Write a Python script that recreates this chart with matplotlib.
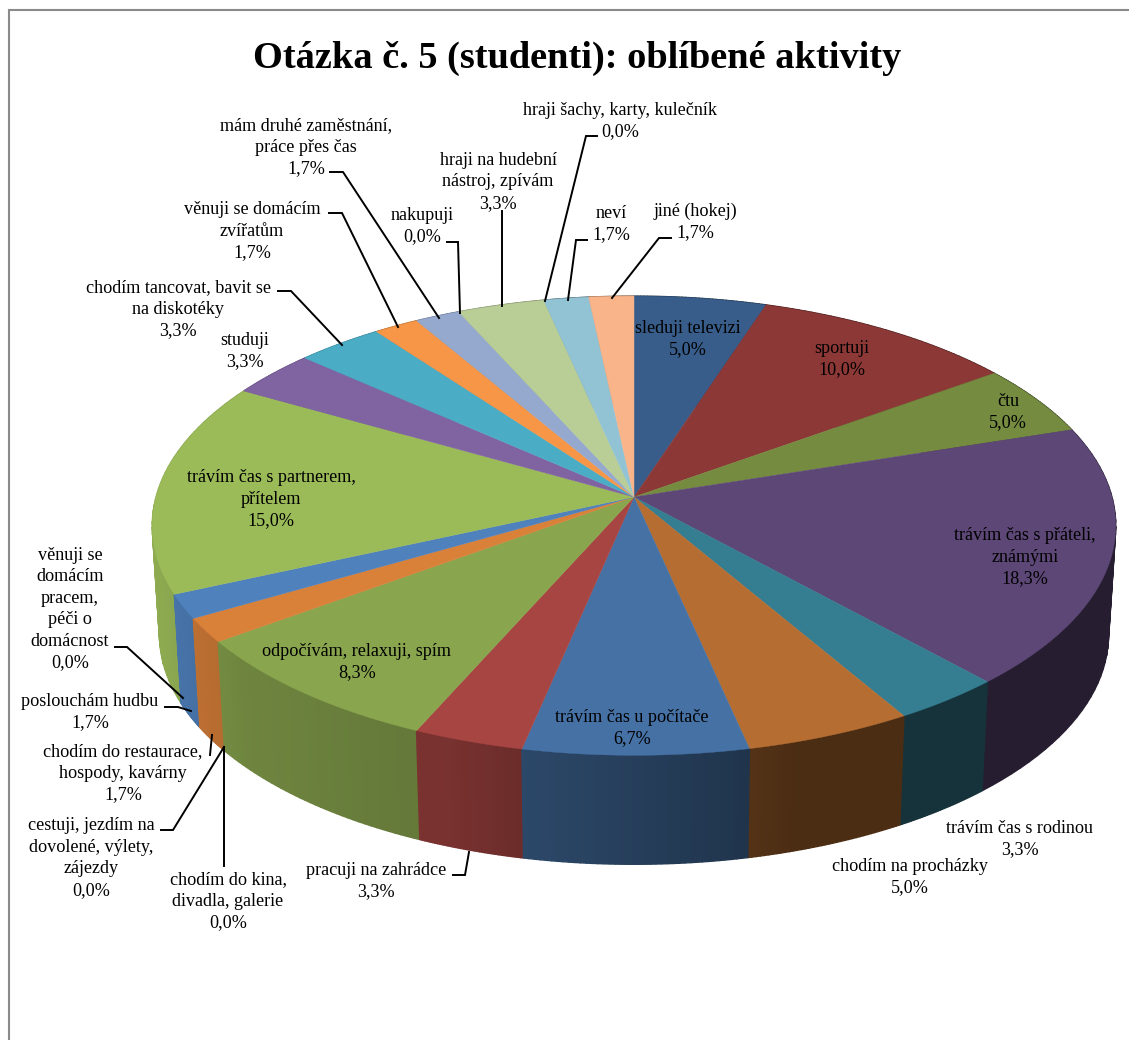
import numpy as np
import matplotlib
matplotlib.use("Agg")
import matplotlib.pyplot as plt

plt.rcParams['font.family'] = ['Liberation Serif', 'DejaVu Serif']

# clockwise from the top of the pie
names = ["sleduji televizi", "sportuji", "čtu", "trávím čas s přáteli,\nznámými",
         "trávím čas s rodinou", "chodím na procházky", "trávím čas u počítače",
         "pracuji na zahrádce", "chodím do kina,\ndivadla, galerie",
         "cestuji, jezdím na\ndovolené, výlety,\nzájezdy", "odpočívám, relaxuji, spím",
         "chodím do restaurace,\nhospody, kavárny", "poslouchám hudbu",
         "věnuji se\ndomácím\npracem,\npéči o\ndomácnost",
         "trávím čas s partnerem,\npřítelem", "studuji",
         "chodím tancovat, bavit se\nna diskotéky", "věnuji se domácím\nzvířatům",
         "mám druhé zaměstnání,\npráce přes čas", "nakupuji",
         "hraji na hudební\nnástroj, zpívám", "hraji šachy, karty, kulečník",
         "neví", "jiné (hokej)"]
values = [5.0, 10.0, 5.0, 18.3, 3.3, 5.0, 6.7, 3.3, 0.0, 0.0, 8.3, 1.7, 1.7, 0.0,
          15.0, 3.3, 3.3, 1.7, 1.7, 0.0, 3.3, 0.0, 1.7, 1.7]
colors = ["#385D8A", "#8C3836", "#748B40", "#5C4776", "#357D91", "#B66D31", "#4571A5",
          "#A74542", "#888888", "#888888", "#89A54E", "#D98039", "#4F81BD", "#888888",
          "#9BBB59", "#8064A2", "#4BACC6", "#F79646", "#95A9CF", "#888888",
          "#B9CD96", "#888888", "#92C3D4", "#F9B48A"]

# label centres in picture pixels
label_x = [688, 842, 1008, 1025, 1020, 910, 632, 376, 228, 91, 357, 123, 90, 70,
           271, 245, 178, 252, 306, 422, 498, 620, 611, 695]
label_y = [338, 358, 411, 556, 838, 876, 727, 880, 900, 857, 661, 772, 711, 608,
           498, 350, 308, 230, 146, 225, 181, 120, 223, 221]

# leader lines, picture pixels
leaders = [
    [(115, 647), (127, 647), (183, 698)],
    [(165, 707), (178, 707), (191, 711)],
    [(210, 755), (212, 735)],
    [(161, 830), (173, 830), (224, 747)],
    [(224, 866), (224, 747)],
    [(453, 875), (465, 875), (469, 852)],
    [(330, 172), (343, 172), (439, 318)],
    [(329, 213), (342, 213), (398, 327)],
    [(278, 291), (291, 291), (342, 345)],
    [(447, 242), (458, 242), (460, 313)],
    [(502, 211), (502, 306)],
    [(597, 136), (586, 136), (545, 301)],
    [(587, 240), (576, 240), (568, 300)],
    [(671, 238), (659, 238), (612, 298)],
]

CX, CY = 634, 497
A, B, K = 478, 226, 0.125
DEPTH, SHRINK = 109, 0.985
LINE_H = 21.6


def top_point(theta):
    # pie rim with a bit of perspective, front is nearer
    u, v = np.sin(theta), np.cos(theta)
    s = 1 / (1 + K * v)
    return CX + A * u * s, CY - B * v * s


def bottom_point(theta):
    x, y = top_point(theta)
    return CX + SHRINK * (x - CX), y + DEPTH


def wall_shade(x):
    return np.interp(x, [150, 250, 450, 530, 740, 800, 1115], [0.92, 0.80, 0.72, 0.63, 0.47, 0.41, 0.41])


fig = plt.figure(figsize=(11.29, 10.40), dpi=100)
ax = fig.add_axes([0, 0, 1, 1])
ax.set_xlim(0, 1129)
ax.set_ylim(1040, 0)
ax.axis("off")

# outer chart frame
ax.plot([9, 9, 1129], [1040, 10, 10], color="#8a8a8a", lw=1.5, solid_joinstyle="miter")

edges = np.radians(np.concatenate([[0], np.cumsum(values)]) * 3.6)
edges = edges * 360 / np.degrees(edges[-1])

# side wall, drawn back to front in thin strips
strips = []
for i, c in enumerate(colors):
    if values[i] == 0:
        continue
    rgb = np.array(matplotlib.colors.to_rgb(c))
    t = np.linspace(edges[i], edges[i + 1], 40)
    for a, b in zip(t[:-1], t[1:]):
        strips.append((np.cos((a + b) / 2), a, b, rgb))
strips.sort(key=lambda s: -s[0])
for _, a, b, rgb in strips:
    x0, y0 = top_point(a)
    x1, y1 = top_point(b)
    x2, y2 = bottom_point(b)
    x3, y3 = bottom_point(a)
    col = rgb * wall_shade((x0 + x1) / 2)
    ax.fill([x0, x1, x2, x3], [y0, y1, y2, y3], color=col, lw=1.0)

# top face
for i, c in enumerate(colors):
    if values[i] == 0:
        continue
    t = np.linspace(edges[i], edges[i + 1], 80)
    xs, ys = top_point(t)
    ax.fill(np.r_[CX, xs], np.r_[CY, ys], color=c, lw=0.3)

for pts in leaders:
    ax.plot(*zip(*pts), color="black", lw=1.4, solid_joinstyle="miter")

# one text per line, matplotlib's own line spacing comes out uneven with the accents
for name, val, x, y in zip(names, values, label_x, label_y):
    lines = f"{name}\n{val:.1f}%".replace(".", ",").split("\n")
    for k, line in enumerate(lines):
        base = y + (k - (len(lines) - 1) / 2) * LINE_H + 5.5
        ax.text(x, base, line, ha="center", va="baseline", fontsize=13.1, color="black")

ax.text(577, 58, "Otázka č. 5 (studenti): oblíbené aktivity", ha="center", va="center",
        fontsize=27.6, fontweight="bold", color="black")

fig.savefig("out.png", dpi=100)
